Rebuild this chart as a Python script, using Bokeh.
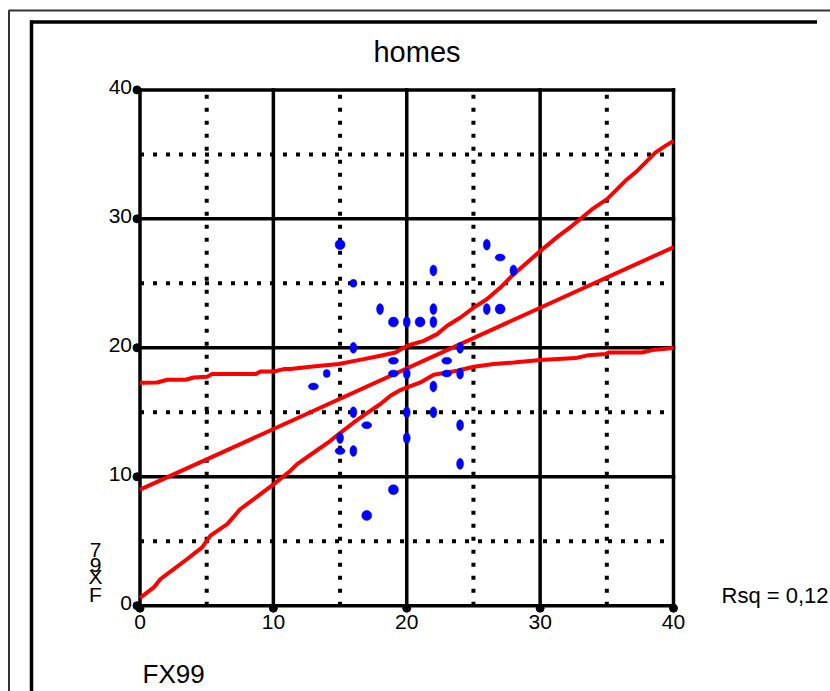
from bokeh.plotting import figure
from bokeh.models import Range1d
from bokeh.core.properties import value
from bokeh.embed import file_html
from bokeh.resources import INLINE
from bokeh.models import ColumnDataSource

# ---------------- data ----------------
title_text = "homes"
x_title = "FX99"
y_title = "FX97"
rsq_text = "Rsq = 0,12"

major_ticks = [0, 10, 20, 30, 40]
minor_ticks = [5, 15, 25, 35]
tick_labels = ["0", "10", "20", "30", "40"]
axis_min, axis_max = 0, 40

pt_x = [15, 16, 26, 27, 28, 22, 18, 22, 26, 27, 19, 20, 21, 22, 16, 24, 19, 23, 14,
        19, 20, 23, 24, 13, 22, 16, 20, 22, 17, 24, 15, 20, 15, 16, 24, 19, 17]
pt_y = [28, 25, 28, 27, 26, 26, 23, 23, 23, 23, 22, 22, 22, 22, 20, 20, 19, 19, 18,
        18, 18, 18, 18, 17, 17, 15, 15, 15, 14, 14, 13, 13, 12, 12, 11, 9, 7]
pt_mark = ["o", "s", "v", "h", "v", "v", "v", "v", "v", "o", "o", "v", "o", "v", "v", "v", "h", "h", "s",
           "h", "v", "h", "v", "h", "v", "v", "v", "v", "h", "v", "v", "v", "h", "v", "v", "o", "o"]

fit_x = [0, 40]
fit_y = [9.0, 27.8]

band_a_x = [0, 1.29, 2.04, 3.41, 4.03, 5.04, 5.41, 8.66, 9.03, 10.03, 10.78, 11.28, 12.78,
            14.90, 16.78, 18.03, 19.15, 20.03, 21.27, 22.28, 23.03, 24.03, 25.02, 26.03,
            27.02, 28.02, 29.03, 30.02, 31.39, 32.40, 33.15, 33.90, 35.02, 35.64, 36.39,
            37.14, 37.89, 38.64, 39.27, 40]
band_a_y = [17.29, 17.31, 17.52, 17.52, 17.70, 17.75, 17.96, 17.96, 18.16, 18.16, 18.35,
            18.35, 18.53, 18.74, 19.12, 19.38, 19.64, 20.16, 20.54, 21.06, 21.71, 22.35,
            23.12, 23.78, 24.67, 25.71, 26.61, 27.52, 28.68, 29.46, 30.10, 30.75, 31.53,
            32.17, 32.95, 33.59, 34.36, 35.14, 35.58, 36.05]

band_b_x = [0, 1.03, 1.54, 2.53, 3.54, 4.66, 5.28, 6.54, 7.53, 8.53, 10.03, 11.28, 11.78,
            13.03, 14.28, 14.90, 16.03, 16.90, 18.03, 18.78, 19.53, 19.98, 21.03, 22.02,
            23.03, 23.78, 25.02, 26.52, 28.02, 30.02, 32.65, 33.64, 34.90, 35.14, 37.65,
            38.40, 40]
band_b_y = [0.6, 1.42, 2.07, 2.84, 3.62, 4.52, 5.43, 6.33, 7.50, 8.27, 9.43, 10.47, 10.98,
            11.88, 12.79, 13.31, 14.21, 14.86, 15.64, 16.28, 16.72, 16.92, 17.31, 17.91,
            18.09, 18.22, 18.53, 18.74, 18.86, 19.05, 19.20, 19.43, 19.51, 19.64, 19.64,
            19.82, 19.98]

# ---------------- layout ----------------
W, H = 830, 691
PX0, PX40 = 139.5, 673.0      # pixel columns of x = 0 and x = 40
PY0, PY40 = 605.2, 89.4       # pixel rows of y = 0 and y = 40
SX = (PX40 - PX0) / 40.0
SY = (PY0 - PY40) / 40.0
XR = (-PX0 / SX, (W - PX0) / SX)
YR = (-(H - PY0) / SY, PY0 / SY)


def dx(px):
    return (px - PX0) / SX


def dy(py):
    return (PY0 - py) / SY


FONT = "Liberation Sans"

p = figure(width=W, height=H, x_range=Range1d(*XR), y_range=Range1d(*YR),
           x_axis_type=None, y_axis_type=None,
           output_backend="svg", toolbar_location=None,
           min_border=0, min_border_left=0, min_border_right=0,
           min_border_top=0, min_border_bottom=0)
p.outline_line_color = None
p.background_fill_color = "white"
p.border_fill_color = "white"
p.xgrid.visible = False
p.ygrid.visible = False

n_maj, n_min = len(major_ticks), len(minor_ticks)

# minor dotted grid
p.segment(x0=minor_ticks, y0=[axis_min] * n_min, x1=minor_ticks, y1=[axis_max] * n_min,
          line_color="black", line_width=4, line_dash="4 9")
p.segment(x0=[axis_min] * n_min, y0=minor_ticks, x1=[axis_max] * n_min, y1=minor_ticks,
          line_color="black", line_width=4, line_dash="4 9")
# major solid grid (also forms the axes and frame)
p.segment(x0=major_ticks, y0=[axis_min] * n_maj, x1=major_ticks, y1=[axis_max] * n_maj,
          line_color="black", line_width=3.5, line_cap="square")
p.segment(x0=[axis_min] * n_maj, y0=major_ticks, x1=[axis_max] * n_maj, y1=major_ticks,
          line_color="black", line_width=3.5, line_cap="square")

# page borders
thin = "#333333"
p.segment(x0=[dx(8), dx(8.5)], y0=[dy(10), dy(10)],
          x1=[dx(840), dx(8.5)], y1=[dy(10), dy(700)],
          line_color=thin, line_width=2)
p.segment(x0=[dx(29.5), dx(31)], y0=[dy(21.5), dy(20)],
          x1=[dx(816.5), dx(31)], y1=[dy(21.5), dy(700)],
          line_color="black", line_width=3.5)

# axis tick dots
p.scatter([dx(PX0 - 3)] * n_maj, major_ticks, size=8, color="black")
p.scatter(major_ticks, [dy(PY0 + 2.5)] * n_maj, size=8, color="black")

# tick labels
p.text(x=[dx(PX0 - 8)] * n_maj, y=[t + 3 / SY for t in major_ticks],
       text=tick_labels, text_align="right", text_baseline="middle",
       text_font=value(FONT), text_font_size="21px", text_color="black")
p.text(x=major_ticks, y=[dy(621.5)] * n_maj, text=tick_labels,
       text_align="center", text_baseline="middle",
       text_font=value(FONT), text_font_size="21px", text_color="black")

# regression line and bands
p.line(fit_x, fit_y, line_color="#ff0000", line_width=4)
p.line(band_a_x, band_a_y, line_color="#ff0000", line_width=4)
p.line(band_b_x, band_b_y, line_color="#ff0000", line_width=4)

# points
wmap = {"o": 10, "v": 7, "h": 10, "s": 7}
hmap = {"o": 10, "v": 11, "h": 7, "s": 8}
src = ColumnDataSource(dict(x=pt_x, y=pt_y,
                            w=[wmap[m] for m in pt_mark],
                            h=[hmap[m] for m in pt_mark]))
p.ellipse(x="x", y="y", width="w", height="h", width_units="screen",
          height_units="screen", source=src, fill_color="#0000ff",
          line_color="#0000ff", line_width=0.5)

# texts
p.text(x=[dx(416.5)], y=[dy(51.5)], text=[title_text], text_align="center",
       text_baseline="middle", text_font=value(FONT),
       text_font_size="29px", text_color="black")
p.text(x=[dx(142)], y=[dy(673)], text=[x_title], text_align="left",
       text_baseline="middle", text_font=value(FONT),
       text_font_size="26px", text_color="black")
p.text(x=[dx(721)], y=[dy(594.5)], text=[rsq_text], text_align="left",
       text_baseline="middle", text_font=value(FONT),
       text_font_size="22px", text_color="black")
# y title: upright characters stacked from bottom to top
ych_py = [593.5, 575.5, 564, 549.5]
p.text(x=[dx(95)] * len(y_title), y=[dy(v) for v in ych_py], text=list(y_title),
       text_align="center", text_baseline="middle", text_font=value(FONT),
       text_font_size="21px", text_color="black")

open("out.html", "w").write(file_html(p, INLINE))
